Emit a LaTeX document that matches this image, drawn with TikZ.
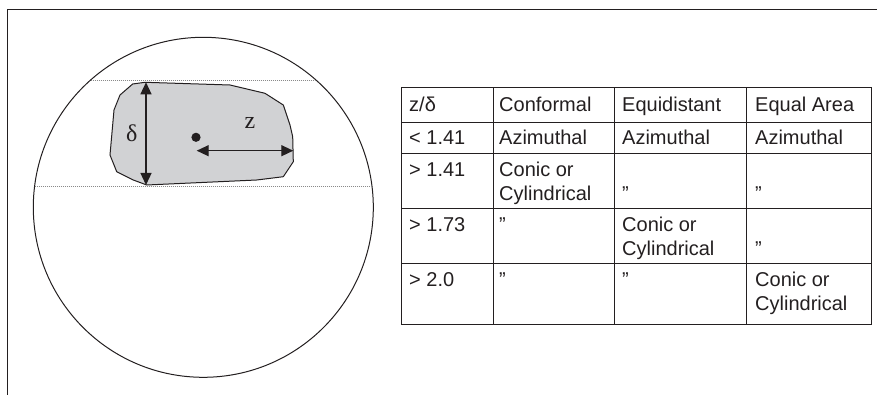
\documentclass[tikz,border=0pt]{standalone}
\usepackage{fontspec}
\setmainfont{Liberation Sans}
\newfontfamily\seriffont{Liberation Serif}
\usetikzlibrary{arrows.meta}
\definecolor{shapegray}{HTML}{D1D2D4}
\definecolor{inkcol}{HTML}{231F20}
\definecolor{dotgray}{HTML}{8A8A8A}
\begin{document}
\begin{tikzpicture}[x=1pt,y=-1pt,
  font=\fontsize{20}{24}\selectfont,
  frameline/.style={draw=inkcol,line width=1.2pt},
  gridline/.style={draw=inkcol,line width=1pt},
  guide/.style={draw=dotgray,line width=0.6pt,dash pattern=on 1pt off 1pt},
  dimarrow/.style={draw=inkcol,line width=1.3pt,{Triangle[length=12pt,width=11pt]}-{Triangle[length=12pt,width=11pt]}},
  celltext/.style={anchor=base west,inner sep=0pt,text=inkcol},
  lbl/.style={inner sep=0pt,text=inkcol,font=\seriffont\fontsize{24}{28}\selectfont}]
\useasboundingbox (0,0) rectangle (877,395);
% frame
\draw[frameline] (7.5,395) -- (7.5,9.5) -- (877,9.5);
% circle
\draw[inkcol,line width=1pt] (203.3,207.3) circle (170);
% guide chords
\draw[guide] (90.6,80) -- (316,80);
\draw[guide] (34.6,186) -- (372,186);
% shape
\draw[inkcol,line width=1pt,fill=shapegray]
  (132.7,84) -- (145,82.3) -- (230,85) -- (265,93.3) -- (283.3,105) -- (290,125)
  -- (292.7,136.7) -- (293.3,161.7) -- (283.3,176.7) -- (256.7,180) -- (146.7,185)
  -- (133.3,180) -- (116.7,171.7) -- (110,155) -- (114,110) -- (120,95) -- cycle;
% dimension arrows
\coordinate (dtop) at (146,82.3);
\coordinate (dbot) at (146,185);
\coordinate (zl) at (196.7,150.7);
\coordinate (zr) at (293.3,150.7);
\draw[dimarrow] (dtop) -- (dbot);
\draw[dimarrow] (zl) -- (zr);
\fill[inkcol] (196,137.3) circle (4.6);
\node[lbl] (delta) at (131.7,133.3) {δ};
\node[lbl] (zlabel) at (250,123.3) {z};
% table grid
\draw[gridline] (401,88) rectangle (871,324);
\foreach \xx in {493,614,746} \draw[gridline] (\xx,88) -- (\xx,324);
\foreach \yy in {122.5,154,209,263} \draw[gridline] (401,\yy) -- (871,\yy);
% row 1
\node[celltext] (h1) at (409,112) {z/δ};
\node[celltext] (h2) at (499,112) {Conformal};
\node[celltext] (h3) at (622,112) {Equidistant};
\node[celltext] (h4) at (755,112) {Equal Area};
% row 2
\node[celltext] (a1) at (409,145) {< 1.41};
\node[celltext] (a2) at (499,145) {Azimuthal};
\node[celltext] (a3) at (622,145) {Azimuthal};
\node[celltext] (a4) at (755,145) {Azimuthal};
% row 3
\node[celltext] (b1) at (409,176.5) {> 1.41};
\node[celltext] (b2a) at (499,176.5) {Conic or};
\node[celltext] (b2b) at (499,200.5) {Cylindrical};
\node[celltext] (b3) at (622,200.5) {”};
\node[celltext] (b4) at (755,200.5) {”};
% row 4
\node[celltext] (c1) at (409,231.5) {> 1.73};
\node[celltext] (c2) at (499,231.5) {”};
\node[celltext] (c3a) at (622,231.5) {Conic or};
\node[celltext] (c3b) at (622,255.5) {Cylindrical};
\node[celltext] (c4) at (755,255.5) {”};
% row 5
\node[celltext] (d1) at (409,286.5) {> 2.0};
\node[celltext] (d2) at (499,286.5) {”};
\node[celltext] (d3) at (622,286.5) {”};
\node[celltext] (d4a) at (755,286.5) {Conic or};
\node[celltext] (d4b) at (755,310.5) {Cylindrical};
\end{tikzpicture}
\end{document}
